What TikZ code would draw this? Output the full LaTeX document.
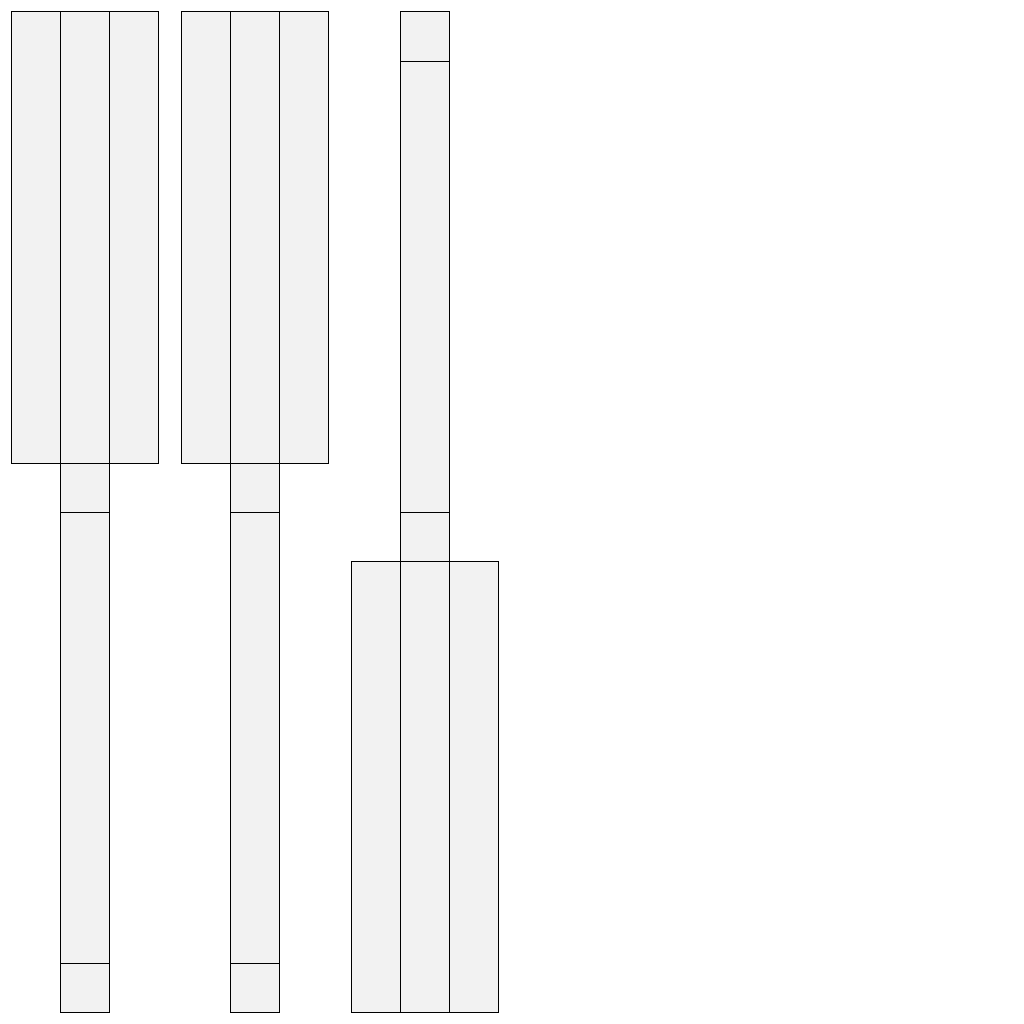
\documentclass[tikz,border=0pt]{standalone}
\begin{document}
\begin{tikzpicture}[x=1pt,y=-1pt,
  cell/.style={draw=black,fill=gray!10,line width=0.9pt}]
\useasboundingbox (0,0) rectangle (1024,1024);
% group 1
\draw[cell] (11,11.5) rectangle (60,463);
\draw[cell] (60,11.5) rectangle (109,463);
\draw[cell] (109,11.5) rectangle (158,463);
\draw[cell] (60,463) rectangle (109,512);
\draw[cell] (60,512) rectangle (109,963.5);
\draw[cell] (60,963.5) rectangle (109,1012);
% group 2
\draw[cell] (181,11.5) rectangle (230,463);
\draw[cell] (230,11.5) rectangle (279,463);
\draw[cell] (279,11.5) rectangle (328,463);
\draw[cell] (230,463) rectangle (279,512);
\draw[cell] (230,512) rectangle (279,963.5);
\draw[cell] (230,963.5) rectangle (279,1012);
% group 3
\draw[cell] (400,11.5) rectangle (449,61);
\draw[cell] (400,61) rectangle (449,512);
\draw[cell] (400,512) rectangle (449,561);
\draw[cell] (351,561) rectangle (400,1012);
\draw[cell] (400,561) rectangle (449,1012);
\draw[cell] (449,561) rectangle (498,1012);
\end{tikzpicture}
\end{document}
